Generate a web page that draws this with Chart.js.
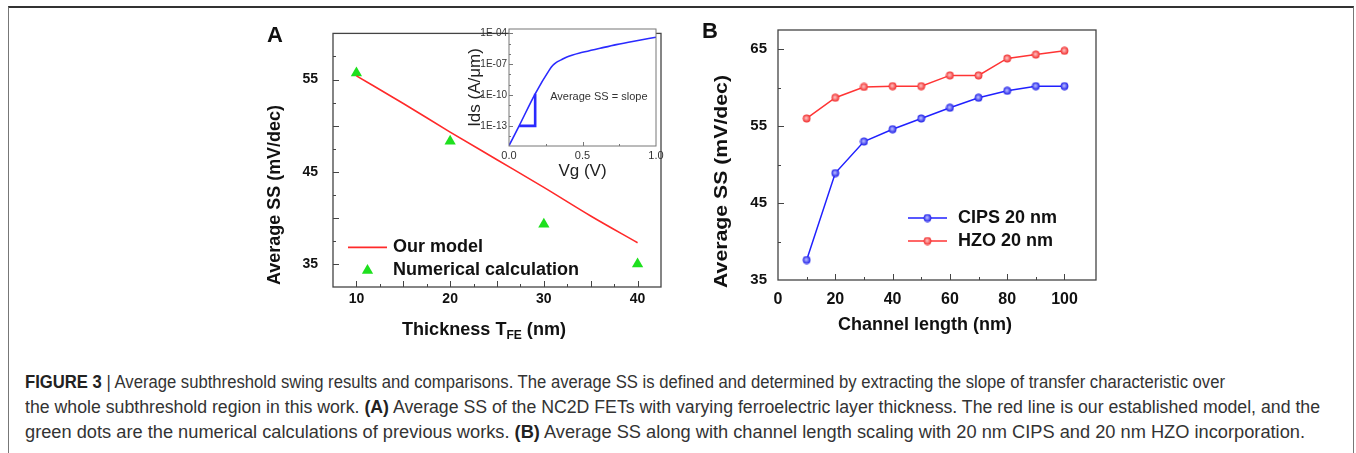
<!DOCTYPE html>
<html>
<head>
<meta charset="utf-8">
<script src="https://cdn.jsdelivr.net/npm/chart.js@4.4.1/dist/chart.umd.min.js"></script>
<style>
  body { margin: 0; background: #fff; font-family: "Liberation Sans", Arial, sans-serif; }
  #page { position: relative; width: 1356px; height: 453px; overflow: hidden; }
  #frame { position: absolute; left: 8px; top: 6px; width: 1344px; height: 470px;
           border-top: 2px solid #333; border-left: 1px solid #777; border-right: 1px solid #777; }
  canvas { position: absolute; }
  .panel { position: absolute; font-weight: bold; font-size: 22px; line-height: 22px; color: #111; }
  .cap { position: absolute; left: 25px; display: inline-block; font-size: 17.5px; line-height: 24px;
         color: #333; white-space: nowrap; transform-origin: 0 0; }
  .cap b { color: #222; }
</style>
</head>
<body>
<div id="page">
  <div id="frame"></div>
  <canvas id="chartA" width="420" height="340" style="left:255px;top:10px"></canvas>
  <canvas id="inset" width="235" height="175" style="left:440px;top:15px"></canvas>
  <canvas id="chartB" width="420" height="340" style="left:695px;top:10px"></canvas>
  <div class="panel" style="left:267px;top:24px">A</div>
  <div class="panel" style="left:702px;top:20px">B</div>
  <div class="cap" style="top:370px"><b>FIGURE 3</b> | Average subthreshold swing results and comparisons. The average SS is defined and determined by extracting the slope of transfer characteristic over</div>
  <div class="cap" style="top:395px">the whole subthreshold region in this work. <b>(A)</b> Average SS of the NC2D FETs with varying ferroelectric layer thickness. The red line is our established model, and the</div>
  <div class="cap" style="top:420px">green dots are the numerical calculations of previous works. <b>(B)</b> Average SS along with channel length scaling with 20 nm CIPS and 20 nm HZO incorporation.</div>
</div>
<script>
// Panel A - SS vs ferroelectric thickness
const thickness = [10, 20, 30, 40];
const numericalSS = [55.7, 48.3, 39.3, 35.0];
const modelThickness = [10, 15, 20, 25, 30, 35, 40];
const modelSS = [55.4, 52.4, 49.3, 46.3, 43.3, 40.2, 37.3];
const xTicksA = [10, 20, 30, 40];
const yTicksA = [35, 45, 55];

// Inset - transfer curve
const vg = [0, 0.069, 0.178, 0.275, 0.297, 0.32, 0.355, 0.39, 0.5, 0.62, 0.73, 0.85, 1.0];
const ids = [1.2e-15, 1e-13, 1.3e-10, 2.8e-8, 7.4e-8, 1.4e-7, 2.6e-7, 4.7e-7, 1.4e-6, 3.5e-6, 7.9e-6, 1.7e-5, 4.1e-5];
const slopeVg = [0.069, 0.178, 0.178];
const slopeIds = [1e-13, 1e-13, 1.3e-10];
const insetXTicks = [0, 0.5, 1];
const insetYTicks = ['1E-04', '1E-07', '1E-10', '1E-13'];

// Panel B - SS vs channel length
const channelLength = [10, 20, 30, 40, 50, 60, 70, 80, 90, 100];
const cipsSS = [37.6, 48.9, 53.0, 54.6, 56.0, 57.4, 58.7, 59.6, 60.2, 60.2];
const hzoSS = [56.0, 58.7, 60.1, 60.2, 60.2, 61.6, 61.6, 63.8, 64.3, 64.8];
const xTicksB = [0, 20, 40, 60, 80, 100];
const yTicksB = [35, 45, 55, 65];

const FONT = '"Liberation Sans", Arial, sans-serif';
Chart.defaults.font.family = FONT;
Chart.defaults.color = '#111';
Chart.defaults.animation = false;

const pts = (xs, ys) => xs.map((x, i) => ({ x, y: ys[i] }));

// frame round the plot with inward ticks
function frameTicks(major, opt) {
  return {
    id: 'frameTicks',
    beforeDraw(chart) {
      if (!opt.fill) return;
      const { ctx, chartArea: a } = chart;
      ctx.save();
      ctx.fillStyle = opt.fill;
      ctx.fillRect(a.left, a.top, a.width, a.height);
      ctx.restore();
    },
    afterDatasetsDraw(chart) {
      const { ctx, chartArea: a } = chart;
      ctx.save();
      ctx.strokeStyle = opt.color;
      ctx.lineWidth = opt.width;
      ctx.strokeRect(a.left, a.top, a.width, a.height);
      ctx.lineWidth = 1;
      Object.values(chart.scales).forEach(s => {
        const isMajor = major[s.id];
        if (!isMajor) return;
        s.ticks.forEach(t => {
          if (t.value <= s.min || t.value >= s.max) return;
          const len = isMajor(t.value) ? opt.long : opt.short;
          const p = Math.round(s.getPixelForValue(t.value)) + 0.5;
          ctx.beginPath();
          if (s.isHorizontal()) { ctx.moveTo(p, a.bottom); ctx.lineTo(p, a.bottom - len); }
          else { ctx.moveTo(a.left, p); ctx.lineTo(a.left + len, p); }
          ctx.stroke();
        });
      });
      ctx.restore();
    }
  };
}

// axis titles and other free text
function texts(items) {
  return {
    id: 'texts',
    afterDraw(chart) {
      const ctx = chart.ctx, a = chart.chartArea;
      items.forEach(it => {
        const [x, y] = it.at(a, chart);
        ctx.save();
        ctx.translate(x, y);
        if (it.rotate) ctx.rotate(-Math.PI / 2);
        ctx.fillStyle = it.color || '#111';
        ctx.textBaseline = 'middle';
        ctx.textAlign = 'left';
        const font = p => `${it.weight || 'bold'} ${p.size || it.size}px ${FONT}`;
        let w = 0;
        it.parts.forEach(p => { ctx.font = font(p); w += ctx.measureText(p.t).width; });
        const k = it.width ? it.width / w : 1;
        ctx.scale(k, 1);
        let cx = it.align === 'start' ? 0 : -w / 2;
        it.parts.forEach(p => {
          ctx.font = font(p);
          ctx.fillText(p.t, cx, p.dy || 0);
          cx += ctx.measureText(p.t).width;
        });
        ctx.restore();
      });
    }
  };
}

// legend inside the plot
function legendRows(rows, lx0, lx1, tx) {
  return {
    id: 'legendRows',
    afterDraw(chart) {
      const ctx = chart.ctx, a = chart.chartArea;
      rows.forEach(r => {
        const ds = chart.data.datasets[r.ds];
        const y = a.top + r.dy;
        const x0 = a.left + lx0, x1 = a.left + lx1, xm = (x0 + x1) / 2;
        ctx.save();
        if (ds.showLine) {
          ctx.strokeStyle = ds.borderColor;
          ctx.lineWidth = ds.borderWidth;
          ctx.beginPath(); ctx.moveTo(x0, y); ctx.lineTo(x1, y); ctx.stroke();
        }
        if (ds.pointStyle === 'triangle') {
          const rad = ds.pointRadius;
          ctx.fillStyle = ds.backgroundColor;
          ctx.beginPath();
          for (let i = 0; i < 3; i++) {
            const t = i * 2 * Math.PI / 3;
            ctx.lineTo(xm + Math.sin(t) * rad, y - Math.cos(t) * rad);
          }
          ctx.closePath(); ctx.fill();
        } else if (ds.pointStyle instanceof HTMLCanvasElement) {
          ctx.drawImage(ds.pointStyle, xm - ds.pointStyle.width / 2, y - ds.pointStyle.height / 2);
        }
        ctx.fillStyle = '#111';
        ctx.font = `bold 18px ${FONT}`;
        ctx.textBaseline = 'middle';
        ctx.fillText(ds.label, a.left + tx, y);
        ctx.restore();
      });
    }
  };
}

function ball(edge, light) {
  const c = document.createElement('canvas');
  c.width = c.height = 9;
  const g = c.getContext('2d');
  const grd = g.createRadialGradient(4, 4, 0.3, 4.5, 4.5, 4.2);
  grd.addColorStop(0, light);
  grd.addColorStop(1, edge);
  g.fillStyle = grd;
  g.beginPath(); g.arc(4.5, 4.5, 3.9, 0, Math.PI * 2); g.fill();
  return c;
}

const tickFont = size => ({ size, weight: 'bold', family: FONT });

// ---- Panel A ----
new Chart(document.getElementById('chartA'), {
  type: 'scatter',
  data: {
    datasets: [{
      label: 'Our model',
      data: pts(modelThickness, modelSS),
      showLine: true,
      borderColor: '#ff2a2a',
      borderWidth: 1.6,
      pointRadius: 0,
      cubicInterpolationMode: 'monotone'
    }, {
      label: 'Numerical calculation',
      data: pts(thickness, numericalSS),
      pointStyle: 'triangle',
      pointRadius: 6.5,
      backgroundColor: '#1ee01e',
      borderColor: '#1ee01e',
      borderWidth: 0
    }]
  },
  options: {
    responsive: false,
    layout: { padding: { left: 0, top: 13, right: 14, bottom: 0 } },
    plugins: { legend: { display: false }, tooltip: { enabled: false } },
    scales: {
      x: {
        type: 'linear', min: 7.5, max: 42.5,
        grid: { display: false, drawTicks: false }, border: { display: false },
        ticks: { stepSize: 2.5, autoSkip: false, maxRotation: 0, padding: 4, color: '#111', font: tickFont(14),
                 callback: v => xTicksA.includes(v) ? String(v) : '' },
        afterFit: s => { s.height = 63; }
      },
      y: {
        min: 32.5, max: 60,
        grid: { display: false, drawTicks: false }, border: { display: false },
        ticks: { stepSize: 2.5, autoSkip: false, padding: 15, color: '#111', font: tickFont(14),
                 callback: v => yTicksA.includes(v) ? String(v) : '' },
        afterFit: s => { s.width = 78; }
      }
    }
  },
  plugins: [
    frameTicks({ x: v => v % 5 === 0, y: v => v % 5 === 0 }, { color: '#444', width: 1.3, long: 6, short: 3 }),
    texts([
      { parts: [{ t: 'Average SS (mV/dec)' }], size: 18, rotate: true, align: 'start', width: 180,
        at: a => [a.left - 58, a.bottom - 2] },
      { parts: [{ t: 'Thickness T' }, { t: 'FE', size: 12, dy: 6 }, { t: ' (nm)' }], size: 18, width: 164,
        at: a => [(a.left + a.right) / 2 - 13, a.bottom + 43] }
    ]),
    legendRows([{ ds: 0, dy: 214 }, { ds: 1, dy: 237 }], 15, 54, 60)
  ]
});

// ---- Inset ----
new Chart(document.getElementById('inset'), {
  type: 'scatter',
  data: {
    datasets: [{
      data: pts(vg, ids),
      showLine: true,
      borderColor: '#2a2aff',
      borderWidth: 1.6,
      pointRadius: 0,
      cubicInterpolationMode: 'monotone'
    }, {
      data: pts(slopeVg, slopeIds),
      showLine: true,
      borderColor: '#2a2aff',
      borderWidth: 2.6,
      pointRadius: 0
    }]
  },
  options: {
    responsive: false,
    layout: { padding: { left: 0, top: 14, right: 19, bottom: 0 } },
    plugins: { legend: { display: false }, tooltip: { enabled: false } },
    scales: {
      x: {
        type: 'linear', min: 0, max: 1,
        grid: { display: false, drawTicks: false }, border: { display: false },
        ticks: { stepSize: 0.25, autoSkip: false, maxRotation: 0, padding: 3, color: '#333',
                 font: { size: 11, family: FONT },
                 callback: v => insetXTicks.includes(v) ? v.toFixed(1) : '' },
        title: { display: true, text: 'Vg (V)', color: '#222', font: { size: 17, family: FONT },
                 padding: { top: 0, bottom: 8 } },
        afterFit: s => { s.height = 44; }
      },
      y: {
        type: 'logarithmic', min: 1.1e-15, max: 2.6e-4,
        grid: { display: false, drawTicks: false }, border: { display: false },
        afterBuildTicks: s => {
          const t = [];
          for (let e = Math.ceil(Math.log10(s.min)); e <= Math.floor(Math.log10(s.max)); e++) t.push({ value: Math.pow(10, e) });
          s.ticks = t;
        },
        ticks: { autoSkip: false, padding: 2, color: '#333', font: { size: 10, family: FONT },
                 callback: v => {
                   const lab = '1E-' + String(-Math.round(Math.log10(v))).padStart(2, '0');
                   return insetYTicks.includes(lab) ? lab : '';
                 } },
        title: { display: true, text: 'Ids (A/μm)', color: '#222', font: { size: 17, family: FONT },
                 padding: { top: 25, bottom: 0 } },
        afterFit: s => { s.width = 69; }
      }
    }
  },
  plugins: [
    frameTicks({
      x: v => insetXTicks.includes(v),
      y: v => insetYTicks.includes('1E-' + String(-Math.round(Math.log10(v))).padStart(2, '0'))
    }, { color: '#777', width: 1, long: 4, short: 2, fill: '#fff' }),
    texts([
      { parts: [{ t: 'Average SS = slope' }], size: 11, weight: 'normal', color: '#333', align: 'start',
        at: (a, c) => [c.scales.x.getPixelForValue(0.28), c.scales.y.getPixelForValue(7e-11)] }
    ])
  ]
});

// ---- Panel B ----
new Chart(document.getElementById('chartB'), {
  type: 'scatter',
  data: {
    datasets: [{
      label: 'CIPS 20 nm',
      data: pts(channelLength, cipsSS),
      showLine: true,
      borderColor: '#2020ff',
      borderWidth: 1.5,
      pointStyle: ball('#1010e8', '#b8bcff'),
      pointRadius: 4
    }, {
      label: 'HZO 20 nm',
      data: pts(channelLength, hzoSS),
      showLine: true,
      borderColor: '#ff3434',
      borderWidth: 1.5,
      pointStyle: ball('#f02020', '#ffc0c0'),
      pointRadius: 4
    }]
  },
  options: {
    responsive: false,
    layout: { padding: { left: 0, top: 14, right: 19, bottom: 0 } },
    plugins: { legend: { display: false }, tooltip: { enabled: false } },
    scales: {
      x: {
        type: 'linear', min: 0, max: 111,
        grid: { display: false, drawTicks: false }, border: { display: false },
        ticks: { stepSize: 10, autoSkip: false, maxRotation: 0, padding: 10, color: '#111', font: tickFont(16),
                 callback: v => xTicksB.includes(v) ? String(v) : '' },
        afterFit: s => { s.height = 70; }
      },
      y: {
        min: 35, max: 67.5,
        grid: { display: false, drawTicks: false }, border: { display: false },
        ticks: { stepSize: 5, autoSkip: false, padding: 11, color: '#111', font: tickFont(15),
                 callback: v => yTicksB.includes(v) ? String(v) : '' },
        afterFit: s => { s.width = 83; }
      }
    }
  },
  plugins: [
    frameTicks({ x: v => xTicksB.includes(v), y: v => yTicksB.includes(v) }, { color: '#444', width: 1.3, long: 6, short: 3 }),
    texts([
      { parts: [{ t: 'Average SS (mV/dec)' }], size: 18, rotate: true, align: 'start', width: 213,
        at: a => [a.left - 56, a.bottom + 8] },
      { parts: [{ t: 'Channel length (nm)' }], size: 18, width: 174,
        at: a => [(a.left + a.right) / 2 - 12, a.bottom + 45] }
    ]),
    legendRows([{ ds: 0, dy: 188 }, { ds: 1, dy: 211 }], 130, 169, 180)
  ]
});

// stretch caption lines to the measured widths
const capEnds = [1225, 1320, 1305];
document.querySelectorAll('.cap').forEach((el, i) => {
  const w = el.getBoundingClientRect().width;
  el.style.transform = `scaleX(${(capEnds[i] - 25) / w})`;
});
</script>
</body>
</html>
